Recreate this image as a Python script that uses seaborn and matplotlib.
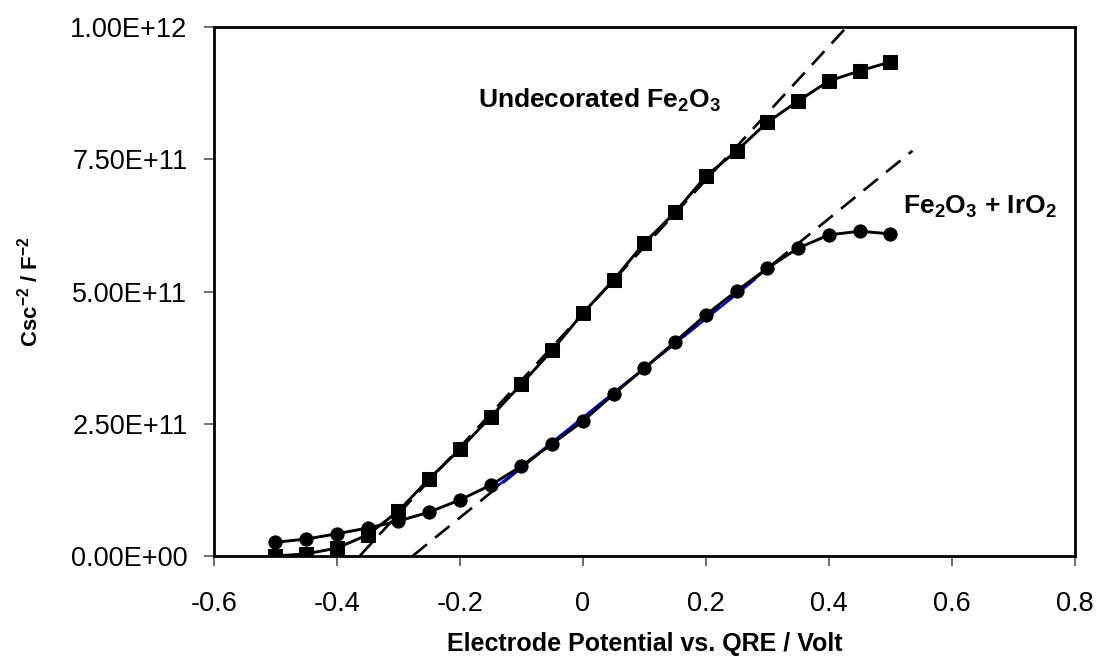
import numpy as np
import pandas as pd
import seaborn as sns
import matplotlib
matplotlib.use("Agg")
import matplotlib.pyplot as plt
from matplotlib.ticker import FuncFormatter, MultipleLocator

# potential (V vs QRE)
potential = [-0.5, -0.45, -0.4, -0.35, -0.3, -0.25, -0.2, -0.15, -0.1, -0.05, 0.0,
             0.05, 0.1, 0.15, 0.2, 0.25, 0.3, 0.35, 0.4, 0.45, 0.5]
# Csc^-2 values
undecorated = [0.0, 0.04e11, 0.15e11, 0.40e11, 0.85e11, 1.46e11, 2.02e11, 2.63e11, 3.25e11,
               3.89e11, 4.59e11, 5.22e11, 5.92e11, 6.50e11, 7.18e11, 7.66e11, 8.20e11,
               8.60e11, 8.98e11, 9.17e11, 9.34e11]
iro2 = [0.26e11, 0.32e11, 0.42e11, 0.53e11, 0.66e11, 0.83e11, 1.06e11, 1.34e11, 1.70e11,
        2.12e11, 2.55e11, 3.06e11, 3.55e11, 4.05e11, 4.56e11, 5.01e11, 5.44e11, 5.82e11,
        6.07e11, 6.14e11, 6.09e11]

# Mott-Schottky linear fits (end points)
undec_fit_x = [-0.363, 0.429]
undec_fit_y = [0.0, 1.0e12]
iro2_fit_x = [-0.277, 0.536]
iro2_fit_y = [0.0, 7.66e11]
trend_x = [-0.15, 0.28]
trend_y = [1.22e11, 5.23e11]

df = pd.DataFrame({"E": potential, "undec": undecorated, "iro2": iro2})

sns.set_style("white")
plt.rcParams["font.family"] = ["Liberation Sans", "DejaVu Sans"]
plt.rcParams["mathtext.fontset"] = "custom"
plt.rcParams["mathtext.rm"] = "Liberation Sans:bold"
plt.rcParams["mathtext.bf"] = "Liberation Sans:bold"
plt.rcParams["mathtext.default"] = "bf"
plt.rcParams["text.color"] = "black"
plt.rcParams["axes.labelcolor"] = "black"
plt.rcParams["xtick.labelcolor"] = "black"
plt.rcParams["ytick.labelcolor"] = "black"

fig, ax = plt.subplots(figsize=(10.99, 6.59), dpi=100)
fig.subplots_adjust(left=0.1947, right=0.978, bottom=0.1563, top=0.959)

# dashed fit lines
sns.lineplot(x=undec_fit_x, y=undec_fit_y, color="black", lw=1.9, ax=ax)
sns.lineplot(x=iro2_fit_x, y=iro2_fit_y, color="black", lw=1.9, ax=ax)
for l in ax.lines:
    l.set_linestyle((0, (7, 4)))

# blue trendline under the data
sns.lineplot(x=trend_x, y=trend_y, color="#0000cc", lw=1.8, ax=ax)

sns.lineplot(data=df, x="E", y="undec", color="black", lw=2.1, marker="s",
             markersize=9.5, markeredgecolor="black", ax=ax)
sns.lineplot(data=df, x="E", y="iro2", color="black", lw=2.1, marker="o",
             markersize=9.5, markeredgecolor="black", ax=ax)

ax.set_xlim(-0.6, 0.8)
ax.set_ylim(0, 1.0e12)
ax.xaxis.set_major_locator(MultipleLocator(0.2))
ax.yaxis.set_major_locator(MultipleLocator(2.5e11))
ax.xaxis.set_major_formatter(FuncFormatter(lambda v, p: "0" if abs(v) < 1e-9 else f"{v:g}"))
ax.yaxis.set_major_formatter(FuncFormatter(lambda v, p: f"{v:.2E}"))
ax.tick_params(axis="both", which="major", direction="out", length=7, width=1.2,
               color="#555555", labelsize=19.5, labelcolor="black", bottom=True, left=True)
ax.tick_params(axis="x", pad=18)
ax.tick_params(axis="y", pad=12)

for s in ax.spines.values():
    s.set_color("black")
    s.set_linewidth(2)

ax.set_xlabel("Electrode Potential vs. QRE / Volt", fontsize=18, fontweight="bold", labelpad=11)
ax.set_ylabel(r"Csc$^{-2}$ / F$^{-2}$", fontsize=16, fontweight="bold", labelpad=20)

ax.text(-0.171, 8.62e11, "Undecorated Fe$_2$O$_3$", fontsize=19, fontweight="bold",
        va="center", ha="left")
ax.text(0.52, 6.6e11, "Fe$_2$O$_3$ + IrO$_2$", fontsize=19, fontweight="bold",
        va="center", ha="left")

plt.savefig("out.png", dpi=100)
